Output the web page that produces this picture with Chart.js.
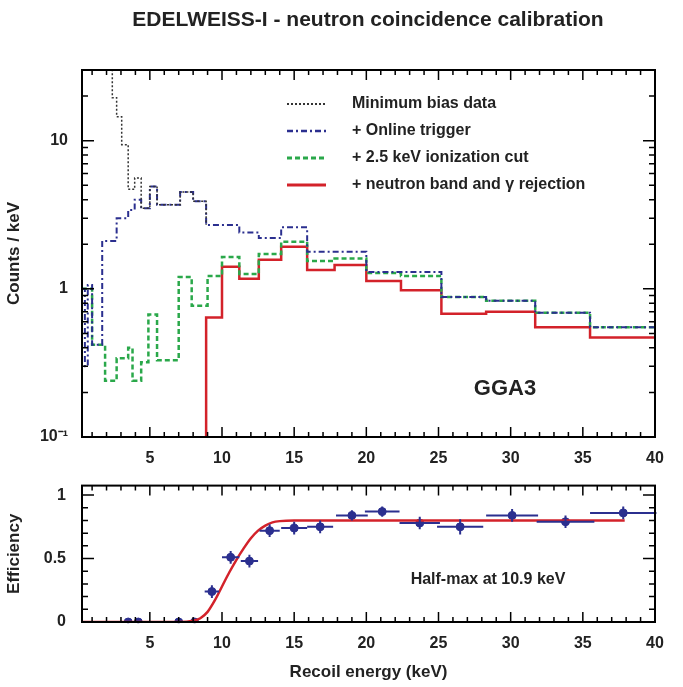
<!DOCTYPE html>
<html>
<head>
<script src="https://cdn.jsdelivr.net/npm/chart.js@4"></script>
<style>
  body { margin: 0; background: #fff; }
  #top { position: absolute; left: 0; top: 0; }
  #bot { position: absolute; left: 0; top: 468px; }
</style>
</head>
<body>
<canvas id="top" width="683" height="468"></canvas>
<canvas id="bot" width="683" height="219"></canvas>
<script>
// histogram bins: left edges and values (last edge closes the bin)
var minBiasE   = [0.3, 2.4, 2.7, 3.05, 3.5, 3.95, 4.4, 5.0, 5.5, 7.1, 8.0, 8.9];
var minBiasV   = [40, 19.5, 14.5, 9.4, 4.7, 5.6, 3.5, 4.9, 3.7, 4.5, 3.9, 2.7];
var onlineE    = [0.3, 0.5, 0.7, 1.0, 1.7, 2.7, 3.5, 3.95, 4.4, 5.0, 5.5, 7.1, 8.0, 8.9, 11.2, 12.55, 14.1, 15.9, 20.0, 25.2, 28.3, 31.7, 35.5, 40];
var onlineV    = [1.0, 0.3, 1.06, 0.42, 2.1, 3.0, 3.4, 4.0, 3.5, 4.9, 3.7, 4.5, 3.9, 2.7, 2.4, 2.2, 2.6, 1.78, 1.30, 0.88, 0.83, 0.69, 0.55, 0.55];
var ionE       = [0.3, 1.0, 1.9, 2.7, 3.5, 3.8, 4.4, 4.9, 5.5, 7.0, 7.9, 9.0, 10.0, 11.2, 12.55, 14.1, 15.9, 17.8, 20.0, 22.4, 25.2, 28.3, 31.7, 35.5, 40];
var ionV       = [1.0, 0.42, 0.24, 0.34, 0.40, 0.24, 0.32, 0.67, 0.33, 1.2, 0.77, 1.22, 1.64, 1.26, 1.72, 2.08, 1.54, 1.6, 1.28, 1.22, 0.88, 0.83, 0.69, 0.55, 0.55];
var bandE      = [8.89, 8.9, 10.0, 11.2, 12.55, 14.1, 15.9, 17.8, 20.0, 22.4, 25.2, 28.3, 31.7, 35.5, 40];
var bandV      = [0.01, 0.64, 1.41, 1.17, 1.57, 1.92, 1.34, 1.45, 1.13, 0.98, 0.68, 0.70, 0.55, 0.47, 0.47];

// efficiency points
var effE   = [3.5, 4.2, 7.0, 8.1, 9.3, 10.6, 11.9, 13.3, 15.0, 16.8, 19.0, 21.1, 23.7, 26.5, 30.1, 33.8, 37.8];
var effV   = [0, 0, 0, 0, 0.24, 0.51, 0.48, 0.72, 0.74, 0.75, 0.84, 0.87, 0.78, 0.75, 0.84, 0.79, 0.86];
var effDx  = [0.3, 0.3, 0.3, 0.3, 0.5, 0.6, 0.6, 0.7, 0.9, 0.9, 1.1, 1.2, 1.4, 1.6, 1.8, 2.0, 2.3];
var effDy  = [0.01, 0.01, 0.01, 0.01, 0.05, 0.05, 0.05, 0.05, 0.05, 0.05, 0.04, 0.04, 0.05, 0.06, 0.05, 0.05, 0.05];
// fitted curve
var fitE = [0.3, 7.0, 8.0, 8.5, 9.0, 9.5, 10.0, 10.5, 11.0, 11.5, 12.0, 12.5, 13.0, 13.5, 14.0, 15.0, 37.9];
var fitV = [0, 0, 0.01, 0.03, 0.08, 0.17, 0.28, 0.39, 0.49, 0.58, 0.66, 0.72, 0.76, 0.785, 0.795, 0.80, 0.80];

var FONT = 'Liberation Sans';
Chart.defaults.font.family = FONT;
Chart.defaults.font.weight = 'bold';
Chart.defaults.color = '#222';

function pts(xs, ys) { return xs.map(function(x, i) { return {x: x, y: ys[i]}; }); }

// inward tick marks on all four sides
var tickPlugin = {
  id: 'inTicks',
  afterDraw: function(chart, args, opts) {
    var c = chart.ctx, a = chart.chartArea, xs = chart.scales.x, ys = chart.scales.y;
    c.save();
    c.strokeStyle = '#000';
    c.lineWidth = 1.5;
    for (var v = 1; v <= 40; v++) {
      var px = xs.getPixelForValue(v), len = v % 5 == 0 ? 10 : 5;
      c.beginPath();
      c.moveTo(px, a.bottom); c.lineTo(px, a.bottom - len);
      c.moveTo(px, a.top); c.lineTo(px, a.top + len);
      c.stroke();
    }
    opts.yMinor.forEach(function(v) {
      var py = ys.getPixelForValue(v), len = opts.yMajor.indexOf(v) >= 0 ? 12 : 6;
      c.beginPath();
      c.moveTo(a.left, py); c.lineTo(a.left + len, py);
      c.moveTo(a.right, py); c.lineTo(a.right - len, py);
      c.stroke();
    });
    c.lineWidth = 2;
    c.strokeRect(a.left, a.top, a.right - a.left, a.bottom - a.top);
    c.restore();
  }
};

var logMinor = [];
[0.1, 1, 10].forEach(function(d) { for (var k = 1; k <= 9; k++) if (d * k <= 30) logMinor.push(d * k); });

// text and legend for the top chart
var topText = {
  id: 'topText',
  afterDraw: function(chart) {
    var c = chart.ctx;
    c.save();
    c.fillStyle = '#222';
    c.font = 'bold 21px ' + FONT;
    c.textAlign = 'center';
    c.fillText('EDELWEISS-I - neutron coincidence calibration', 368, 26);
    c.font = 'bold 22px ' + FONT;
    c.fillText('GGA3', 505, 395);
    var items = [
      ['Minimum bias data', '#333', [2, 2], 2],
      ['+ Online trigger', '#2b2f8f', [6, 3, 2, 3], 2.5],
      ['+ 2.5 keV ionization cut', '#2aa84a', [5, 3], 3],
      ['+ neutron band and \u03b3 rejection', '#d3222a', [], 3]
    ];
    c.font = 'bold 16px ' + FONT;
    c.textAlign = 'left';
    c.textBaseline = 'middle';
    items.forEach(function(it, i) {
      var y = 104 + i * 27;
      c.strokeStyle = it[1]; c.setLineDash(it[2]); c.lineWidth = it[3];
      c.beginPath(); c.moveTo(287, y); c.lineTo(326, y); c.stroke();
      c.fillText(it[0], 352, y);
    });
    c.restore();
  }
};

function histSet(xs, ys, color, dash, width) {
  return {
    data: pts(xs, ys), stepped: 'before', borderColor: color, borderDash: dash,
    borderWidth: width, pointRadius: 0, fill: false
  };
}

new Chart(document.getElementById('top'), {
  type: 'line',
  data: { datasets: [
    histSet(minBiasE, minBiasV, '#333', [2, 2], 1.5),
    histSet(onlineE, onlineV, '#2b2f8f', [6, 3, 2, 3], 2),
    histSet(ionE, ionV, '#2aa84a', [5, 3], 2.5),
    histSet(bandE, bandV, '#d3222a', [], 2.5)
  ]},
  options: {
    responsive: false, animation: false,
    layout: { padding: { top: 70, right: 28 } },
    plugins: { legend: { display: false }, tooltip: { enabled: false },
      inTicks: { yMajor: [0.1, 1, 10], yMinor: logMinor } },
    scales: {
      x: { type: 'linear', min: 0.3, max: 40,
        grid: { display: false }, border: { display: false },
        afterBuildTicks: function(s) { s.ticks = [5, 10, 15, 20, 25, 30, 35, 40].map(function(v) { return {value: v}; }); },
        ticks: { font: { size: 16 }, padding: 4, maxRotation: 0 },
        afterFit: function(s) { s.height = 31; } },
      y: { type: 'logarithmic', min: 0.1, max: 30,
        grid: { display: false }, border: { display: false },
        afterBuildTicks: function(s) { s.ticks = [0.1, 1, 10].map(function(v) { return {value: v}; }); },
        ticks: { font: { size: 16 }, padding: 6,
          callback: function(v) { return v == 0.1 ? '10\u207b\u00b9' : String(v); } },
        title: { display: true, text: 'Counts / keV', font: { size: 17 } },
        afterFit: function(s) { s.width = 82; } }
    }
  },
  plugins: [tickPlugin, topText]
});

// error bars + label for the bottom chart
var errText = {
  id: 'errText',
  afterDatasetsDraw: function(chart) {
    var c = chart.ctx, xs = chart.scales.x, ys = chart.scales.y;
    c.save();
    c.strokeStyle = '#2b2f8f'; c.lineWidth = 2;
    effE.forEach(function(e, i) {
      var px = xs.getPixelForValue(e), py = ys.getPixelForValue(effV[i]);
      c.beginPath();
      c.moveTo(xs.getPixelForValue(e - effDx[i]), py); c.lineTo(xs.getPixelForValue(e + effDx[i]), py);
      c.moveTo(px, ys.getPixelForValue(effV[i] - effDy[i])); c.lineTo(px, ys.getPixelForValue(effV[i] + effDy[i]));
      c.stroke();
    });
    c.fillStyle = '#222';
    c.font = 'bold 16px ' + FONT;
    c.textAlign = 'center';
    c.fillText('Half-max at 10.9 keV', 488, 116);
    c.restore();
  }
};

new Chart(document.getElementById('bot'), {
  type: 'scatter',
  data: { datasets: [
    { type: 'line', data: pts(fitE, fitV), borderColor: '#d3222a', borderWidth: 2.5,
      pointRadius: 0, cubicInterpolationMode: 'monotone', fill: false },
    { data: pts(effE, effV), backgroundColor: '#2b2f8f', borderColor: '#2b2f8f', pointRadius: 4 }
  ]},
  options: {
    responsive: false, animation: false,
    layout: { padding: { top: 10, right: 28 } },
    plugins: { legend: { display: false }, tooltip: { enabled: false },
      inTicks: { yMajor: [0, 0.5, 1], yMinor: [0, 0.1, 0.2, 0.3, 0.4, 0.5, 0.6, 0.7, 0.8, 0.9, 1] } },
    scales: {
      x: { type: 'linear', min: 0.3, max: 40,
        grid: { display: false }, border: { display: false },
        afterBuildTicks: function(s) { s.ticks = [5, 10, 15, 20, 25, 30, 35, 40].map(function(v) { return {value: v}; }); },
        ticks: { font: { size: 16 }, padding: 4, maxRotation: 0 },
        title: { display: true, text: 'Recoil energy (keV)', font: { size: 17 }, padding: { top: 8 } },
        afterFit: function(s) { s.height = 65; } },
      y: { min: 0, max: 1.075,
        grid: { display: false }, border: { display: false },
        afterBuildTicks: function(s) { s.ticks = [0, 0.5, 1].map(function(v) { return {value: v}; }); },
        ticks: { font: { size: 16 }, padding: 8, callback: function(v) { return String(v); } },
        title: { display: true, text: 'Efficiency', font: { size: 17 } },
        afterFit: function(s) { s.width = 82; } }
    }
  },
  plugins: [tickPlugin, errText]
});
</script>
</body>
</html>
